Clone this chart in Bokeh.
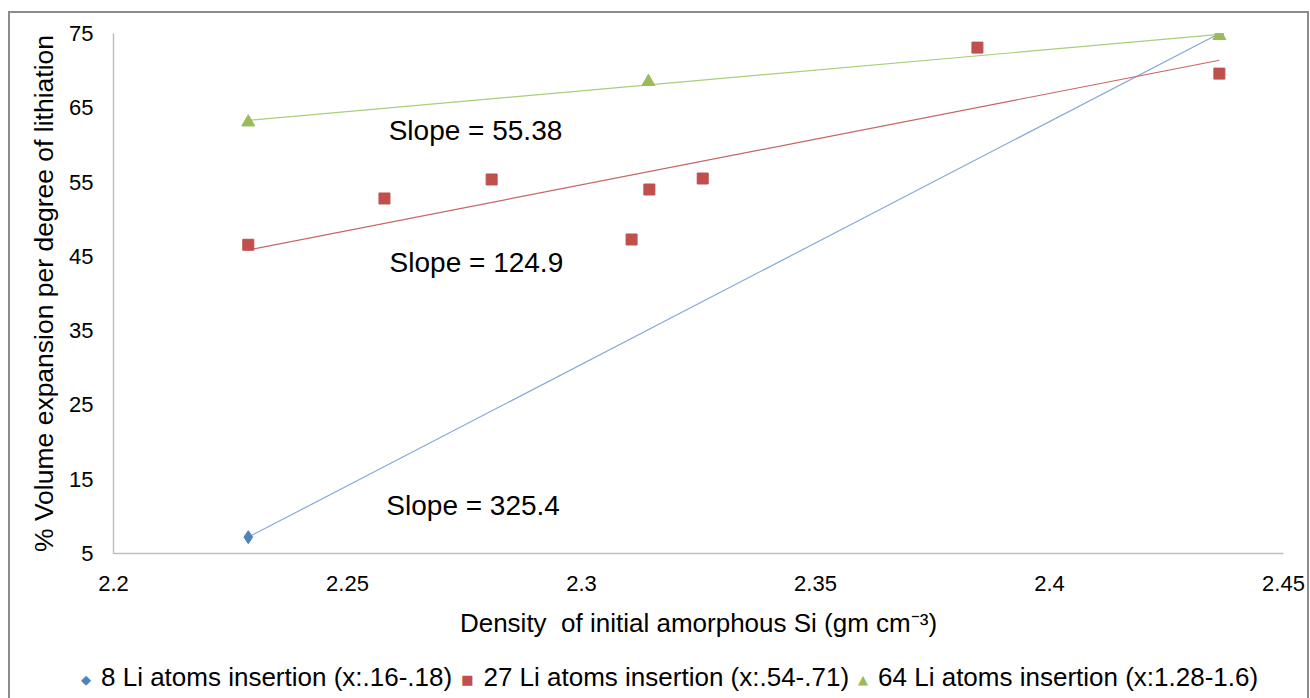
import numpy as np
from bokeh.plotting import figure
from bokeh.layouts import column
from bokeh.models import Range1d, Label, FixedTicker, Div
from bokeh.embed import file_html
from bokeh.resources import INLINE

# ---- data ----
li8_x = [2.2288, 2.4363]
li8_y = [7.2, 75.0]

li27_x = [2.2288, 2.2579, 2.2808, 2.3107, 2.3145, 2.3259, 2.3846, 2.4363]
li27_y = [46.56, 52.79, 55.35, 47.27, 54.0, 55.48, 73.1, 69.6]

li64_x = [2.2288, 2.3143, 2.4363]
li64_y = [63.06, 68.5, 74.7]

series_names = ["8 Li atoms insertion (x:.16-.18)",
                "27 Li atoms insertion (x:.54-.71)",
                "64 Li atoms insertion (x:1.28-1.6)"]
slope_texts = ["Slope = 55.38", "Slope = 124.9", "Slope = 325.4"]
slope_pos_x = [2.2588, 2.2590, 2.2583]
slope_pos_y = [61.94, 44.17, 11.46]

x_ticks = [2.2, 2.25, 2.3, 2.35, 2.4, 2.45]
y_ticks = [5, 15, 25, 35, 45, 55, 65, 75]

FONT = "Liberation Sans"
W, H = 1310, 698
H_MAIN = 656
BORDER = "#8C8C8C"

p = figure(width=W, height=H_MAIN, output_backend="svg", toolbar_location=None,
           x_range=Range1d(2.2, 2.45), y_range=Range1d(5, 75),
           min_border_left=113, min_border_right=27,
           min_border_top=33, min_border_bottom=H_MAIN - 553)
p.outline_line_color = None
p.xgrid.grid_line_color = None
p.ygrid.grid_line_color = None
p.background_fill_color = "white"
p.border_fill_alpha = 0

for ax in (p.xaxis, p.yaxis):
    ax.axis_line_color = "#BFBFBF"
    ax.axis_line_width = 1.5
    ax.major_tick_line_color = None
    ax.minor_tick_line_color = None
    ax.major_tick_out = 0
    ax.major_tick_in = 0
    ax.major_label_text_font = FONT
    ax.major_label_text_font_size = "22px"
    ax.major_label_text_color = "#000000"
    ax.axis_label_text_font = FONT
    ax.axis_label_text_font_style = "normal"
    ax.axis_label_text_color = "#000000"

p.xaxis.axis_label_text_font_size = "26px"
p.yaxis.axis_label_text_font_size = "26.5px"
p.xaxis.ticker = FixedTicker(ticks=x_ticks)
p.yaxis.ticker = FixedTicker(ticks=y_ticks)
p.xaxis.major_label_overrides = {t: f"{t:g}" for t in x_ticks}
p.xaxis.major_label_standoff = 22
p.yaxis.major_label_standoff = 20
p.xaxis.axis_label = "Density\u00a0 of initial amorphous Si (gm cm\u207b\u00b3)"
p.yaxis.axis_label = "% Volume expansion per degree of lithiation"
p.xaxis.axis_label_standoff = 14
p.yaxis.axis_label_standoff = 7

colors = ["#4F81BD", "#C0504D", "#9BBB59"]
line_colors = ["#86AAD9", "#C46664", "#A9CF78"]
markers = ["diamond", "square", "triangle"]
msizes = [13, 11, 13]
legend_symbols = ["\u25C6", "\u25A0", "\u25B2"]
xs = [li8_x, li27_x, li64_x]
ys = [li8_y, li27_y, li64_y]

# linear trend lines (least squares over each series' range)
for x, y, lc in zip(xs, ys, line_colors):
    k, b = np.polyfit(x, y, 1)
    xx = np.array([min(x), max(x)])
    p.line(xx, k * xx + b, line_color=lc, line_width=1.2)

for x, y, c, m, s in zip(xs, ys, colors, markers, msizes):
    p.scatter(x, y, marker=m, size=s, fill_color=c, line_color=c)

for t, x, y in zip(slope_texts, slope_pos_x, slope_pos_y):
    p.add_layout(Label(x=x, y=y, text=t, text_font=FONT, text_font_size="28px",
                       text_baseline="middle", text_align="left", text_color="#000000"))

# ---- legend strip under the chart (HTML text, built from the series) ----
parts = []
for i, (name, c, sym) in enumerate(zip(series_names, colors, legend_symbols)):
    ml = "0" if i == 0 else "9px"
    parts.append(
        f"<span style='color:{c};font-size:13px;font-family:\"DejaVu Sans\";"
        f"margin-left:{ml};margin-right:10px;vertical-align:2px'>{sym}</span>"
        f"<span>{name}</span>")
legend_html = (f"<div style='font-family:\"{FONT}\";font-size:26px;color:#000;"
               f"white-space:nowrap;line-height:42px;padding-left:81px'>"
               + "".join(parts) + "</div>")
lg = Div(text=legend_html, width=W, height=H - H_MAIN,
         styles={"margin": "0", "padding": "0"})

layout = column(p, lg, spacing=0)
# outer chart border drawn behind the transparent canvas
layout.styles = {
    "background-color": "white",
    "background-image": (f"linear-gradient({BORDER},{BORDER}), "
                         f"linear-gradient({BORDER},{BORDER}), "
                         f"linear-gradient({BORDER},{BORDER})"),
    "background-size": "2px 700px, 1300px 2px, 2px 700px",
    "background-position": "8px 11px, 8px 11px, 1307px 11px",
    "background-repeat": "no-repeat",
}

open("out.html", "w").write(file_html(layout, INLINE))
